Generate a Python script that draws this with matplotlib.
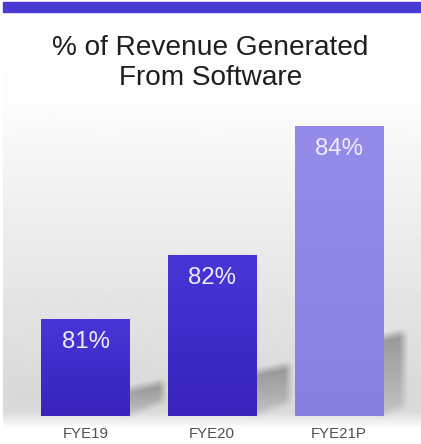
import numpy as np
import matplotlib.pyplot as plt
from matplotlib.patches import Rectangle
from matplotlib.path import Path
from matplotlib.colors import LinearSegmentedColormap

plt.rcParams['font.family'] = ['Liberation Sans', 'DejaVu Sans']

# chart data
categories = ["FYE19", "FYE20", "FYE21P"]
values = [81, 82, 84]
value_labels = ["81%", "82%", "84%"]
title = "% of Revenue Generated\nFrom Software"

W, H = 421, 444
BASE = 79.5          # value axis starts here (truncated)
BAR_W = 0.70
dark_top, dark_bot = "#4736d6", "#3824bc"
light_top, light_bot = "#948ce8", "#8a80e0"


def box_blur(a, k):
    kern = np.ones(k) / k
    a = np.apply_along_axis(lambda r: np.convolve(r, kern, mode="same"), 0, a)
    return np.apply_along_axis(lambda r: np.convolve(r, kern, mode="same"), 1, a)


fig = plt.figure(figsize=(W / 100, H / 100), dpi=100)
fig.patch.set_facecolor("white")
ax = fig.add_axes([0, 0, 1, 1])
x0, x1 = -0.675, 2.648
y0, y1 = 79.066, 85.95
ax.set_xlim(x0, x1)
ax.set_ylim(y0, y1)
ax.axis("off")

# soft grey backdrop fading in towards the baseline
rows = np.arange(H)
shade = np.interp(rows, [0, 100, 395, 412, 428, H], [1.0, 0.99, 0.85, 0.86, 1.0, 1.0])
bg = np.repeat(shade[:, None], 4, axis=1)
ax.imshow(bg, cmap="gray", vmin=0, vmax=1, extent=[x0 + 0.02, x1, y0, y1],
          aspect="auto", zorder=0, interpolation="bilinear")

# header stripe
fig.patches.append(Rectangle((3 / W, 1 - 12 / H), 1, 10 / H, transform=fig.transFigure,
                             color="#4a3ad4", zorder=5))

fig.text(0.5, 1 - 63 / H, title, ha="center", va="center", fontsize=20.2,
         color="#1e1e1e", linespacing=1.22)

# blurred drop shadows thrown up and to the right of each bar
px, py = np.meshgrid(np.arange(W) + 0.5, np.arange(H) + 0.5)
pts = np.column_stack([px.ravel(), py.ravel()])
mask = np.zeros((H, W))
fade = np.zeros((H, W))
for i, v in enumerate(values):
    h = v - BASE
    xr = i + BAR_W / 2
    sh = 0.27 * h
    verts = [(xr - 0.03, BASE), (xr + 0.26, BASE + 0.22),
             (xr + 0.26, BASE + 0.12 + sh), (xr - 0.03, BASE + sh)]
    path = Path(ax.transData.transform(verts))
    inside = path.contains_points(pts).reshape(H, W)
    mask = np.maximum(mask, inside)
    base_px = ax.transData.transform((0, BASE))[1]
    top_px = ax.transData.transform((0, BASE + 0.12 + sh))[1]
    f = np.clip((py - base_px) / max(top_px - base_px, 1), 0, 1)
    fade = np.where(inside, np.maximum(fade, f), fade)
mask[:, 404:] = 0
soft = box_blur(mask * (0.3 + 0.7 * fade), 9)
rgba = np.zeros((H, W, 4))
rgba[..., :3] = 0.42
rgba[..., 3] = 0.65 * soft
ax.imshow(rgba, origin="lower", extent=[x0, x1, y0, y1], aspect="auto",
          zorder=1, interpolation="bilinear")

grad = np.linspace(0, 1, 64)[:, None]
for i, v in enumerate(values):
    h = v - BASE
    top_c, bot_c = (light_top, light_bot) if i == 2 else (dark_top, dark_bot)
    cmap = LinearSegmentedColormap.from_list(f"bar{i}", [bot_c, top_c])
    bars = ax.bar(i, h, bottom=BASE, width=BAR_W, color="none", zorder=2)
    bim = ax.imshow(grad, cmap=cmap, origin="lower",
                    extent=[i - BAR_W / 2, i + BAR_W / 2, BASE, v],
                    aspect="auto", zorder=2, interpolation="bilinear")
    bim.set_clip_path(bars[0])

    ax.annotate(value_labels[i], xy=(i, v), xytext=(0, -16.5), textcoords="offset points",
                ha="center", va="center", fontsize=17.3, color="#eeeaff", zorder=3)
    ax.annotate(categories[i], xy=(i, BASE), xytext=(0, -13.3), textcoords="offset points",
                ha="center", va="center", fontsize=10.8, color="#505050", zorder=3)

fig.savefig("out.png", dpi=100)
